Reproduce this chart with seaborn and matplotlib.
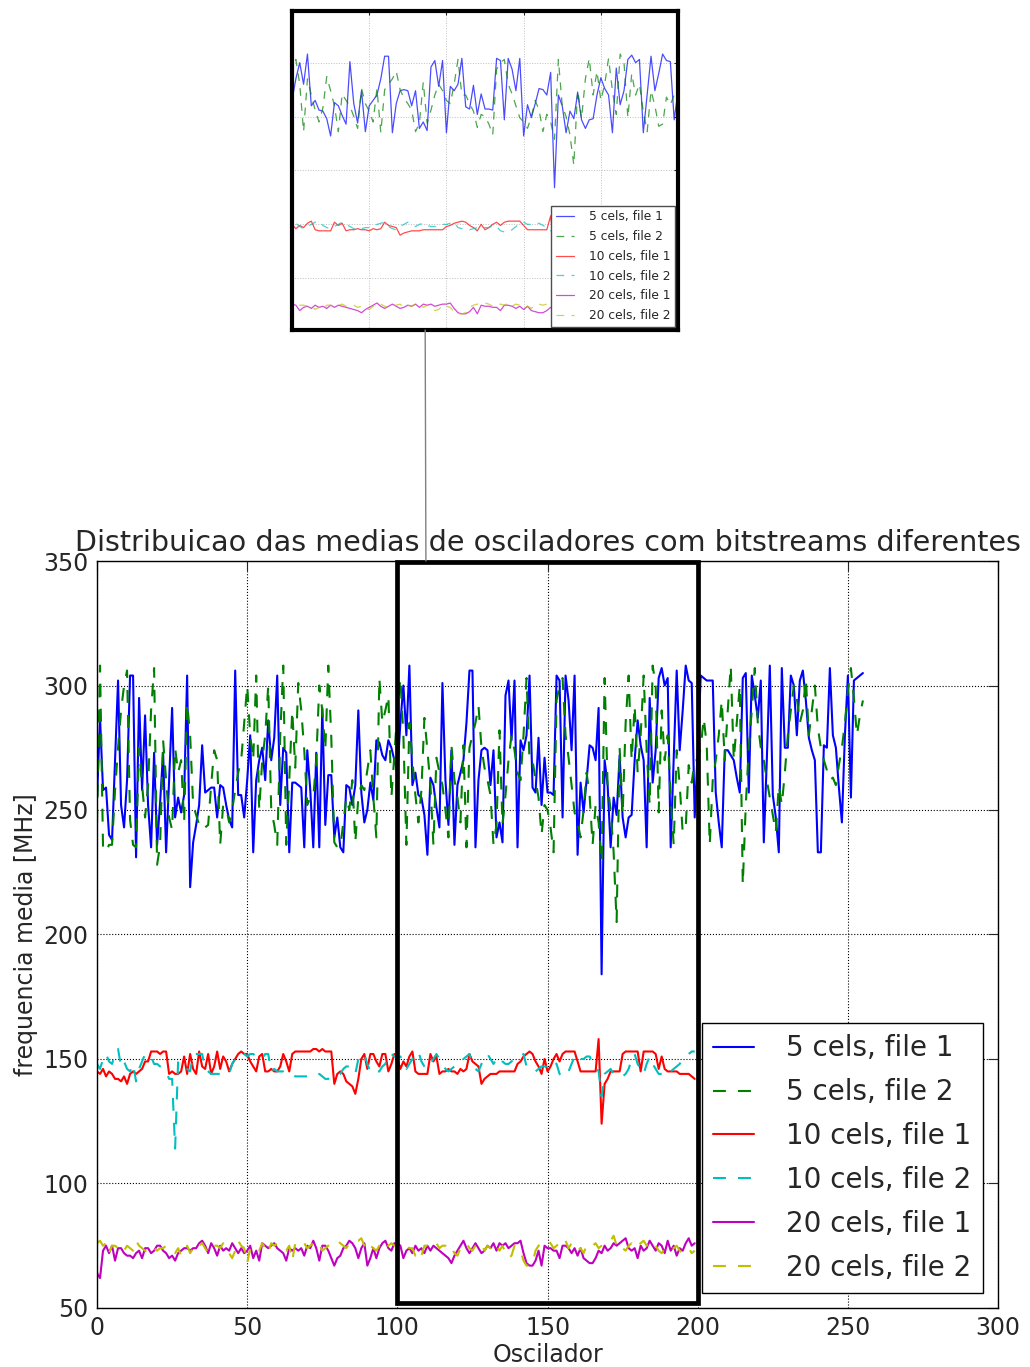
import numpy as np
import matplotlib
matplotlib.use('Agg')
import matplotlib.pyplot as plt
import seaborn as sns
from matplotlib.patches import Rectangle, ConnectionPatch

# medias (MHz), indice = oscilador
b5_f1 = [255, 287, 258, 259, 240, 238, 270, 302, 252, 243,
         262, 304, 304, 231, 295, 258, 288, 252, 235, 273,
         236, 253, 273, 233, 262, 291, 247, 255, 249, 256,
         304, 219, 237, 244, 252, 276, 257, 258, 259, 259,
         247, 260, 259, 252, 246, 243, 306, 256, 256, 247,
         262, 280, 233, 262, 270, 275, 262, 286, 270, 279,
         304, 252, 275, 273, 233, 261, 261, 260, 259, 235,
         274, 258, 235, 273, 235, 291, 244, 264, 264, 239,
         247, 235, 233, 260, 259, 252, 260, 290, 257, 245,
         250, 261, 254, 278, 277, 272, 270, 278, 275, 270,
         265, 285, 300, 280, 308, 260, 265, 256, 255, 248,
         232, 263, 260, 251, 243, 301, 262, 244, 274, 236,
         260, 265, 270, 285, 306, 306, 235, 262, 274, 275,
         274, 260, 274, 239, 245, 237, 296, 302, 278, 302,
         235, 278, 274, 280, 304, 259, 257, 279, 252, 271,
         257, 257, 256, 304, 302, 247, 304, 294, 274, 304,
         232, 261, 249, 262, 276, 275, 270, 291, 184, 270,
         260, 235, 255, 248, 272, 247, 239, 247, 248, 270,
         286, 276, 270, 235, 295, 261, 274, 303, 307, 300,
         303, 235, 270, 306, 274, 290, 308, 302, 301, 247,
         274, 304, 303, 302, 302, 302, 257, 245, 235, 274,
         274, 272, 270, 263, 257, 303, 305, 257, 304, 296,
         287, 302, 237, 270, 308, 256, 247, 233, 307, 275,
         275, 304, 300, 280, 302, 306, 294, 279, 274, 270,
         233, 233, 276, 275, 307, 280, 275, 259, 245, 280,
         304, 255, 302, 303, 304, 305]

b5_f2 = [245, 308, 235, 233, 236, 236, 258, 275, 290, 300,
         306, 246, 236, 235, 275, 260, 247, 260, 290, 307,
         228, 236, 278, 262, 247, 242, 275, 265, 270, 245,
         293, 280, 252, 248, 244, 245, 243, 244, 260, 274,
         270, 236, 252, 251, 245, 250, 258, 265, 270, 285,
         300, 280, 270, 304, 250, 270, 280, 300, 250, 244,
         236, 280, 308, 236, 262, 290, 267, 301, 290, 274,
         252, 255, 255, 270, 300, 290, 274, 308, 279, 237,
         235, 235, 245, 255, 250, 262, 237, 255, 260, 258,
         266, 274, 255, 239, 303, 285, 290, 296, 255, 272,
         290, 303, 280, 236, 285, 270, 256, 245, 258, 287,
         274, 260, 236, 271, 265, 260, 250, 239, 276, 262,
         255, 245, 276, 235, 275, 280, 285, 292, 275, 267,
         262, 256, 236, 244, 282, 244, 256, 270, 280, 274,
         265, 262, 280, 303, 270, 270, 262, 255, 240, 252,
         250, 243, 233, 294, 300, 303, 280, 271, 260, 249,
         245, 239, 250, 265, 256, 236, 252, 245, 229, 303,
         260, 250, 233, 205, 275, 248, 285, 304, 270, 292,
         265, 280, 304, 274, 252, 308, 300, 249, 290, 270,
         280, 255, 236, 274, 260, 241, 243, 268, 261, 270,
         270, 275, 287, 276, 236, 262, 270, 280, 294, 270,
         290, 308, 270, 285, 300, 220, 252, 275, 290, 307,
         285, 275, 270, 262, 255, 248, 241, 260, 252, 265,
         280, 290, 300, 295, 285, 290, 303, 280, 290, 300,
         283, 275, 270, 266, 262, 263, 260, 268, 275, 285,
         298, 307, 295, 280, 288, 294]

b10_f1 = [145, 144, 146, 143, 145, 144, 142, 142, 141, 143,
          140, 144, 145, 144, 145, 146, 149, 149, 153, 153,
          153, 152, 153, 153, 144, 145, 144, 144, 145, 151,
          144, 152, 146, 144, 153, 147, 146, 152, 144, 147,
          153, 146, 151, 149, 145, 148, 150, 152, 153, 152,
          152, 149, 147, 145, 151, 152, 145, 145, 146, 145,
          145, 147, 152, 149, 145, 152, 153, 153, 153, 153,
          153, 153, 154, 154, 153, 154, 153, 153, 153, 140,
          144, 145, 144, 141, 140, 139, 136, 142, 150, 152,
          146, 152, 152, 149, 147, 152, 152, 145, 148, 152,
          150, 146, 149, 147, 151, 153, 145, 144, 144, 144,
          144, 152, 149, 151, 144, 145, 145, 146, 145, 145,
          144, 146, 145, 146, 152, 149, 148, 147, 140, 142,
          143, 144, 144, 144, 145, 145, 145, 145, 145, 145,
          148, 149, 151, 152, 153, 152, 149, 147, 144, 150,
          145, 147, 150, 152, 149, 152, 153, 153, 153, 153,
          149, 145, 145, 145, 145, 145, 145, 158, 124, 140,
          142, 145, 145, 145, 145, 152, 153, 153, 153, 153,
          153, 145, 153, 153, 153, 153, 152, 146, 151, 146,
          145, 145, 145, 145, 144, 144, 144, 144, 143, 142]

b10_f2 = [148, 146, 150, 152, 149, 148, 152, 154, 147, 149,
          146, 145, 148, 141, 146, 149, 152, 151, 151, 148,
          148, 147, 146, 145, 142, 142, 114, 149, 149, 148,
          146, 145, 152, 152, 152, 152, 146, 145, 144, 144,
          144, 144, 144, 144, 144, 148, 150, 152, 152, 152,
          151, 152, 152, 151, 151, 150, 152, 152, 145, 146,
          145, 145, 145, 144, 144, 144, 143, 143, 143, 143,
          143, 143, 143, 143, 144, 143, 142, 142, 143, 143,
          143, 144, 146, 147, 147, 145, 144, 150, 152, 152,
          148, 145, 144, 145, 145, 147, 148, 152, 152, 151,
          150, 151, 148, 146, 148, 150, 152, 153, 149, 147,
          146, 148, 150, 152, 150, 148, 146, 145, 146, 147,
          147, 148, 150, 151, 152, 148, 146, 145, 148, 150,
          152, 150, 148, 150, 151, 149, 148, 148, 149, 150,
          150, 151, 152, 147, 146, 145, 145, 146, 147, 147,
          147, 147, 149, 148, 144, 143, 143, 145, 148, 151,
          152, 150, 150, 151, 151, 149, 147, 145, 135, 144,
          145, 146, 144, 143, 143, 143, 144, 146, 150, 152,
          148, 146, 144, 148, 151, 148, 146, 144, 144, 143,
          144, 145, 146, 147, 148, 150, 151, 152, 153, 153]

b20_f1 = [64, 62, 73, 75, 72, 75, 69, 74, 74, 72,
          71, 71, 70, 72, 73, 70, 74, 74, 72, 73,
          75, 75, 73, 72, 70, 71, 69, 72, 73, 74,
          74, 73, 74, 74, 76, 77, 75, 72, 76, 74,
          71, 75, 73, 74, 73, 76, 74, 72, 74, 72,
          73, 75, 70, 73, 69, 76, 75, 74, 75, 76,
          74, 73, 72, 69, 74, 73, 74, 73, 74, 71,
          75, 74, 77, 74, 69, 75, 75, 73, 70, 67,
          70, 71, 74, 75, 77, 76, 74, 70, 74, 76,
          67, 70, 74, 70, 74, 76, 77, 74, 73, 76,
          76, 75, 70, 73, 74, 72, 75, 73, 74, 72,
          75, 73, 75, 74, 73, 72, 71, 70, 68, 71,
          73, 75, 77, 74, 72, 74, 76, 74, 72, 73,
          75, 74, 76, 73, 76, 75, 76, 74, 75, 76,
          76, 77, 72, 68, 67, 67, 69, 73, 67, 75,
          74, 74, 73, 73, 70, 75, 75, 74, 72, 74,
          71, 74, 70, 69, 68, 68, 70, 73, 72, 75,
          73, 74, 76, 75, 76, 77, 78, 74, 73, 74,
          70, 75, 73, 74, 77, 75, 73, 76, 75, 72,
          77, 73, 75, 71, 74, 73, 76, 78, 75, 76]

b20_f2 = [76, 77, 75, 76, 72, 75, 75, 74, 75, 73,
          75, 74, 73, 77, 75, 74, 73, 72, 74, 74,
          73, 74, 74, 75, 74, 73, 72, 74, 71, 73,
          75, 72, 74, 73, 75, 76, 74, 72, 73, 75,
          75, 74, 76, 73, 72, 70, 73, 77, 75, 74,
          68, 74, 75, 74, 73, 76, 74, 72, 76, 75,
          76, 75, 74, 73, 75, 69, 76, 76, 75, 76,
          74, 75, 76, 75, 76, 73, 74, 75, 76, 76,
          77, 76, 75, 74, 76, 77, 77, 77, 78, 75,
          73, 75, 74, 73, 75, 76, 74, 75, 76, 75,
          75, 76, 75, 75, 74, 74, 71, 73, 71, 75,
          75, 74, 75, 76, 74, 75, 75, 73, 74, 72,
          71, 74, 75, 76, 74, 73, 75, 75, 76, 73,
          75, 74, 76, 75, 73, 75, 72, 70, 71, 75,
          74, 73, 69, 67, 67, 68, 73, 75, 76, 76,
          77, 76, 74, 75, 76, 75, 77, 74, 76, 75,
          73, 74, 72, 75, 76, 75, 76, 74, 75, 76,
          76, 77, 79, 75, 76, 74, 73, 75, 76, 74,
          75, 76, 77, 75, 76, 74, 75, 73, 72, 74,
          73, 74, 74, 75, 73, 72, 73, 74, 72, 73]

dash = (0, (6.2, 5.8))
series = [
    (b5_f1, '5 cels, file 1', 'b', '-'),
    (b5_f2, '5 cels, file 2', 'g', dash),
    (b10_f1, '10 cels, file 1', 'r', '-'),
    (b10_f2, '10 cels, file 2', 'c', dash),
    (b20_f1, '20 cels, file 1', 'm', '-'),
    (b20_f2, '20 cels, file 2', 'y', dash),
]

sns.set_style('white')
plt.rcParams['font.family'] = ['DejaVu Sans']

fig = plt.figure(figsize=(10.3, 13.67), dpi=100)
ax = fig.add_axes([0.0942, 0.0432, 0.8748, 0.5464])

for vals, lab, col, ls in series:
    sns.lineplot(x=np.arange(len(vals)), y=vals, color=col, linestyle=ls,
                 linewidth=1.5, label=lab, ax=ax)

ax.set_xlim(0, 300)
ax.set_ylim(50, 350)
ax.set_xticks(range(0, 301, 50))
ax.set_yticks(range(50, 351, 50))
ax.grid(True, color='k', linestyle=':', linewidth=0.8)
ax.tick_params(direction='in', top=True, right=True, length=7, labelsize=17, pad=6)
for s in ax.spines.values():
    s.set_color('k')
    s.set_linewidth(1)
ax.set_title('Distribuicao das medias de osciladores com bitstreams diferentes',
             fontsize=20.6, pad=7)
ax.set_xlabel('Oscilador', fontsize=17, labelpad=2)
ax.set_ylabel('frequencia media [MHz]', fontsize=17)
leg = ax.legend(loc='lower right', fontsize=20, fancybox=False, framealpha=1,
                edgecolor='k', handlelength=1.5, handletextpad=1.15,
                labelspacing=0.57, borderaxespad=0.55)
leg.get_frame().set_linewidth(1)

# janela ampliada
ins = fig.add_axes([0.2835, 0.7586, 0.3748, 0.2334])
for vals, lab, col, ls in series:
    sns.lineplot(x=np.arange(len(vals)), y=vals, color=col, linestyle=ls,
                 linewidth=0.9, alpha=0.7, label=lab, ax=ins)
ins.set_xlim(100, 200)
ins.set_ylim(52, 348)
ins.set_xticks(range(100, 201, 20))
ins.set_yticks(range(100, 301, 50))
ins.set_xticklabels([])
ins.set_yticklabels([])
ins.set_xlabel('')
ins.set_ylabel('')
ins.grid(True, color='0.75', linestyle=':', linewidth=0.7)
ins.tick_params(direction='in', top=True, right=True, length=3)
for s in ins.spines.values():
    s.set_color('k')
    s.set_linewidth(3)
ileg = ins.legend(loc='lower right', fontsize=8.8, fancybox=False, framealpha=1,
                  edgecolor='0.3', handlelength=1.5, handletextpad=1.2,
                  labelspacing=0.55, borderaxespad=0.25)

ax.add_patch(Rectangle((100, 52), 100, 297.5, fill=False, edgecolor='k',
                       linewidth=3.4, clip_on=False, zorder=5))
con = ConnectionPatch(xyA=(0.345, 0), coordsA=ins.transAxes,
                      xyB=(109.5, 350), coordsB=ax.transData,
                      color='0.5', linewidth=1)
fig.add_artist(con)

fig.savefig('out.png', dpi=100)
